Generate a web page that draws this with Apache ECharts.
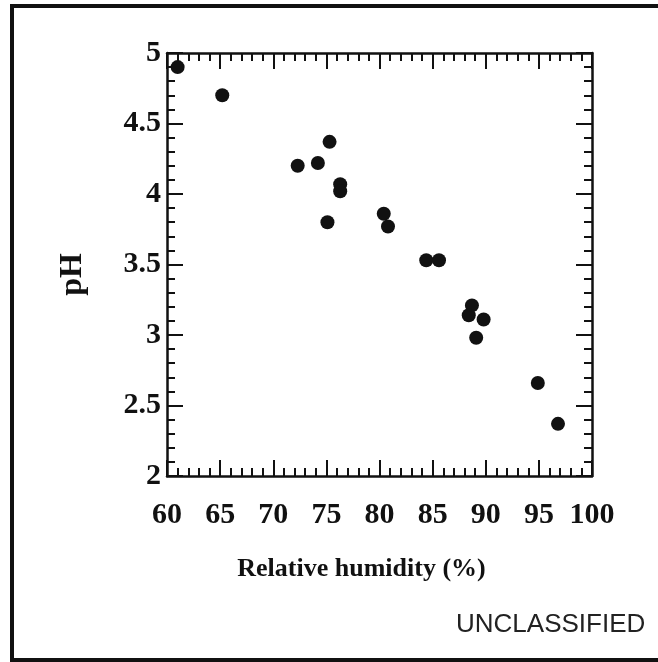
<!DOCTYPE html>
<html>
<head>
<meta charset="utf-8">
<script src="https://cdn.jsdelivr.net/npm/echarts@6/dist/echarts.min.js"></script>
<style>
html,body{margin:0;padding:0;background:#fff;}
#chart{width:658px;height:662px;}
</style>
</head>
<body>
<div id="chart"></div>
<script>
// Data
var humidity = [61.0, 65.2, 72.3, 74.2, 75.3, 76.3, 76.3, 75.1, 80.4, 80.8, 84.4, 85.6, 88.7, 88.4, 89.8, 89.1, 94.9, 96.8];
var ph       = [4.90, 4.70, 4.20, 4.22, 4.37, 4.07, 4.02, 3.80, 3.86, 3.77, 3.53, 3.53, 3.21, 3.14, 3.11, 2.98, 2.66, 2.37];
var xTickLabels = ['60','65','70','75','80','85','90','95','100'];
var yTickLabels = ['2','2.5','3','3.5','4','4.5','5'];
var xTitle = 'Relative humidity (%)';
var yTitle = 'pH';
var footer = 'UNCLASSIFIED';

var points = humidity.map(function (h, i) { return [h, ph[i]]; });
var serif = '"Liberation Serif", "DejaVu Serif", serif';
var ink = '#111';

function xAxisBase(pos, showLabel) {
  return {
    type: 'value', position: pos, min: 60, max: 100, interval: 5,
    axisLine: { show: true, lineStyle: { color: ink, width: 2.5 } },
    axisTick: { show: true, inside: true, length: 16, lineStyle: { color: ink, width: 2 } },
    minorTick: { show: true, splitNumber: 5, length: 8, lineStyle: { color: ink, width: 2 } },
    splitLine: { show: false },
    axisLabel: {
      show: showLabel, margin: 24, color: ink, fontFamily: serif, fontWeight: 'bold', fontSize: 30,
      formatter: function (v) { var k = Math.round((v - 60) / 5); return xTickLabels[k]; }
    }
  };
}
function yAxisBase(pos, showLabel) {
  return {
    type: 'value', position: pos, min: 2, max: 5, interval: 0.5,
    axisLine: { show: true, lineStyle: { color: ink, width: 2.5 } },
    axisTick: { show: true, inside: true, length: 16, lineStyle: { color: ink, width: 2 } },
    minorTick: { show: true, splitNumber: 5, length: 8, lineStyle: { color: ink, width: 2 } },
    splitLine: { show: false },
    axisLabel: {
      show: showLabel, margin: 6, color: ink, fontFamily: serif, fontWeight: 'bold', fontSize: 30,
      formatter: function (v) { var k = Math.round((v - 2) / 0.5); return yTickLabels[k]; }
    }
  };
}

var xb = xAxisBase('bottom', true);
xb.name = xTitle;
xb.nameLocation = 'middle';
xb.nameGap = 80;
xb.nameTextStyle = { color: ink, fontFamily: serif, fontWeight: 'bold', fontSize: 26, padding: [0, 36, 0, 0] };
var xt = xAxisBase('top', false);

var yl = yAxisBase('left', true);
yl.name = yTitle;
yl.nameLocation = 'middle';
yl.nameGap = 78;
yl.nameTextStyle = { color: ink, fontFamily: serif, fontWeight: 'bold', fontSize: 32, padding: [0, 20, 0, 0] };
var yr = yAxisBase('right', false);

var chart = echarts.init(document.getElementById('chart'), null, { renderer: 'canvas' });
chart.setOption({
  backgroundColor: '#fff',
  animation: false,
  grid: { left: 167, top: 53, right: 66, bottom: 186, containLabel: false },
  xAxis: [xb, xt],
  yAxis: [yl, yr],
  series: [{
    type: 'scatter', xAxisIndex: 0, yAxisIndex: 0,
    data: points, symbol: 'circle', symbolSize: 14,
    itemStyle: { color: ink, opacity: 1 }
  }],
  graphic: [
    { type: 'line', shape: { x1: 12, y1: 6, x2: 670, y2: 6 }, style: { stroke: '#111', lineWidth: 4 } },
    { type: 'line', shape: { x1: 12, y1: 4, x2: 12, y2: 662 }, style: { stroke: '#111', lineWidth: 4 } },
    { type: 'line', shape: { x1: 10, y1: 660, x2: 670, y2: 660 }, style: { stroke: '#111', lineWidth: 4 } },
    { type: 'text', left: 456, top: 612,
      style: { text: footer, fill: '#222', font: '26px "Liberation Sans", Arial, sans-serif' } }
  ]
});
</script>
</body>
</html>
